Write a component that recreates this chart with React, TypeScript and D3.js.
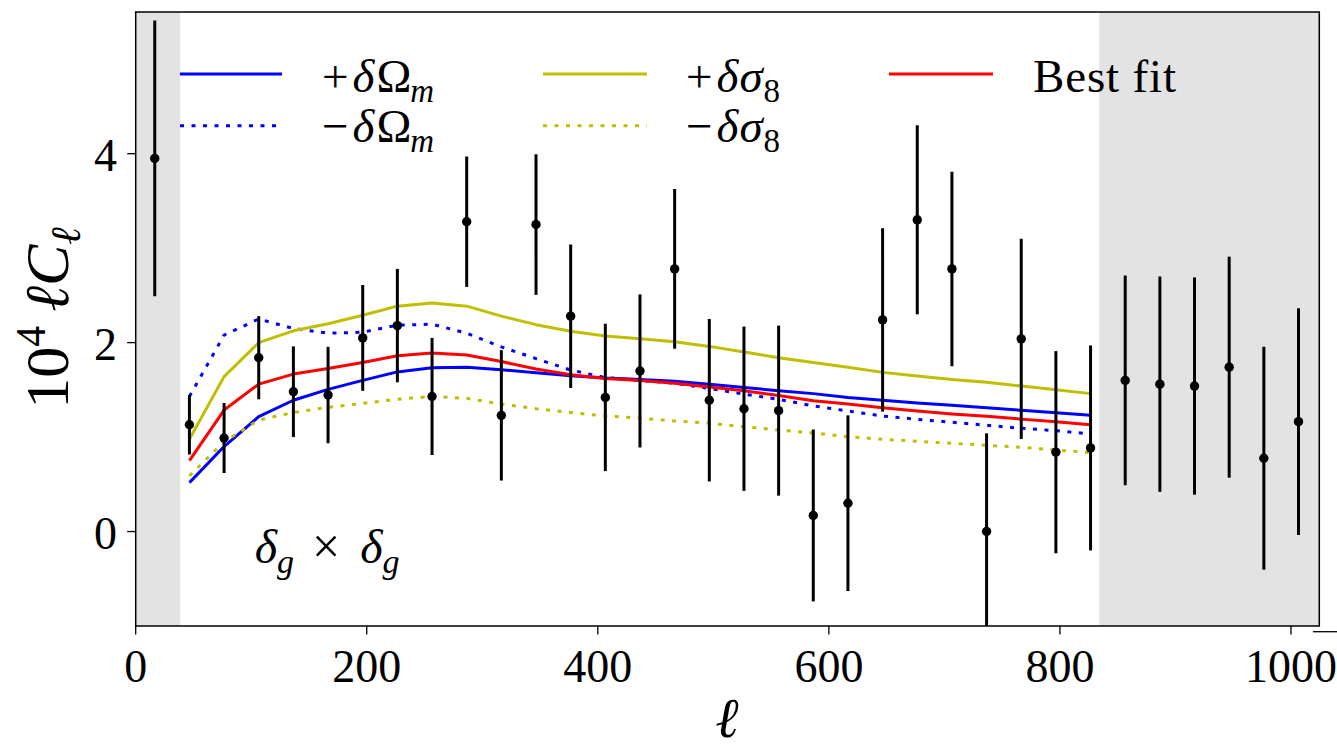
import React from "react";
import * as d3 from "d3";

// ---- data ----
const binEll: number[] = [16.5, 46.5, 76.5, 106.5, 136.5, 166.5, 196.5, 226.5, 256.5, 286.5, 316.5, 346.5, 376.5, 406.5, 436.5, 466.5, 496.5, 526.5, 556.5, 586.5, 616.5, 646.5, 676.5, 706.5, 736.5, 766.5, 796.5, 826.5, 856.5, 886.5, 916.5, 946.5, 976.5, 1006.5];
const dataVal: number[] = [3.95, 1.13, 0.99, 1.84, 1.48, 1.445, 2.05, 2.18, 1.43, 3.28, 1.23, 3.25, 2.28, 1.42, 1.70, 2.78, 1.39, 1.30, 1.28, 0.17, 0.30, 2.24, 3.30, 2.78, 0.0, 2.04, 0.84, 0.885, 1.60, 1.56, 1.54, 1.74, 0.776, 1.163];
const dataErr: number[] = [1.46, 0.315, 0.37, 0.44, 0.48, 0.51, 0.56, 0.60, 0.62, 0.69, 0.69, 0.745, 0.76, 0.78, 0.81, 0.845, 0.86, 0.87, 0.90, 0.91, 0.93, 0.97, 1.0, 1.03, 1.04, 1.06, 1.07, 1.085, 1.11, 1.14, 1.15, 1.17, 1.18, 1.2];

const modelEll: number[] = [46.5, 76.5, 106.5, 136.5, 166.5, 196.5, 226.5, 256.5, 286.5, 316.5, 346.5, 376.5, 406.5, 436.5, 466.5, 496.5, 526.5, 556.5, 586.5, 616.5, 646.5, 676.5, 706.5, 736.5, 766.5, 796.5, 826.5];
const plusOm: number[] = [0.518, 0.90, 1.216, 1.39, 1.505, 1.60, 1.69, 1.735, 1.74, 1.713, 1.68, 1.65, 1.625, 1.61, 1.59, 1.56, 1.526, 1.49, 1.46, 1.42, 1.39, 1.36, 1.336, 1.31, 1.283, 1.258, 1.23];
const minusOm: number[] = [1.43, 2.08, 2.25, 2.15, 2.10, 2.11, 2.185, 2.195, 2.10, 1.955, 1.83, 1.71, 1.63, 1.60, 1.57, 1.515, 1.455, 1.40, 1.33, 1.276, 1.223, 1.188, 1.157, 1.125, 1.093, 1.068, 1.033];
const plusS8: number[] = [0.977, 1.64, 2.0, 2.125, 2.20, 2.29, 2.386, 2.42, 2.386, 2.28, 2.19, 2.12, 2.07, 2.04, 2.01, 1.96, 1.90, 1.84, 1.79, 1.74, 1.685, 1.646, 1.61, 1.58, 1.54, 1.50, 1.46];
const minusS8: number[] = [0.59, 0.95, 1.18, 1.26, 1.315, 1.357, 1.40, 1.43, 1.41, 1.35, 1.30, 1.26, 1.223, 1.20, 1.17, 1.146, 1.11, 1.075, 1.043, 1.004, 0.977, 0.955, 0.934, 0.913, 0.892, 0.864, 0.835];
const bestFit: number[] = [0.75, 1.286, 1.56, 1.667, 1.727, 1.79, 1.86, 1.89, 1.868, 1.80, 1.72, 1.66, 1.62, 1.60, 1.57, 1.53, 1.49, 1.44, 1.385, 1.35, 1.31, 1.276, 1.244, 1.22, 1.19, 1.163, 1.13];

const xTicks: number[] = [0, 200, 400, 600, 800, 1000];
const yTicks: number[] = [0, 2, 4];
const maskedRanges: [number, number][] = [[0, 38.5], [834, 1024.5]];

// ---- layout ----
const W = 1337, H = 752;
const L = 135.7, R = 1319.3, T = 12, B = 626;
const FONT = "'Liberation Serif', 'DejaVu Serif', serif";

const x = d3.scaleLinear().domain([0, 1024.5]).range([L, R]);
const y = d3.scaleLinear().domain([-1, 5.5]).range([B, T]);

const lineGen = (vals: number[]) =>
  d3.line<number>().x((_, i) => x(modelEll[i])).y((v) => y(v))(vals) as string;

const BLUE = "#0000ff", YEL = "#bfbf00", RED = "#ff0000";
const DOT = "4 7.5";

const series = [
  { vals: plusOm, color: BLUE, dash: undefined as string | undefined },
  { vals: minusOm, color: BLUE, dash: DOT },
  { vals: plusS8, color: YEL, dash: undefined },
  { vals: minusS8, color: YEL, dash: DOT },
  { vals: bestFit, color: RED, dash: undefined },
];

function MathLabel({ sign, x0, y0 , kind }: { sign: string; x0: number; y0: number; kind: "om" | "s8" }) {
  return (
    <text x={x0} y={y0} fontSize={47}>
      <tspan>{sign}</tspan>
      <tspan dx={4} fontStyle="italic">δ</tspan>
      {kind === "om" ? (
        <>
          <tspan dx={2}>Ω</tspan>
          <tspan fontSize={33} fontStyle="italic" dy={10} dx={-1}>m</tspan>
        </>
      ) : (
        <>
          <tspan dx={1} fontStyle="italic">σ</tspan>
          <tspan fontSize={33} dy={10} dx={1}>8</tspan>
        </>
      )}
    </text>
  );
}

export default function App() {
  return (
    <svg width={W} height={H} style={{ position: "absolute", left: 0, top: 0, background: "#fff" }} fontFamily={FONT}>
      <defs>
        <clipPath id="plotclip">
          <rect x={L} y={T} width={R - L} height={B - T} />
        </clipPath>
      </defs>
      {/* masked regions */}
      {maskedRanges.map(([a, b], i) => (
        <rect key={i} x={x(a)} y={T} width={x(b) - x(a)} height={B - T} fill="#e3e3e3" />
      ))}
      <g clipPath="url(#plotclip)">
        {series.map((s, i) => (
          <path key={i} d={lineGen(s.vals)} fill="none" stroke={s.color} strokeWidth={3} strokeDasharray={s.dash} strokeLinejoin="round" />
        ))}
        {binEll.map((l, i) => (
          <g key={i}>
            <line x1={x(l)} x2={x(l)} y1={y(dataVal[i] - dataErr[i])} y2={y(dataVal[i] + dataErr[i])} stroke="#000" strokeWidth={3} />
            <circle cx={x(l)} cy={y(dataVal[i])} r={4.7} fill="#000" />
          </g>
        ))}
      </g>
      {/* frame */}
      <rect x={L} y={T} width={R - L} height={B - T} fill="none" stroke="#000" strokeWidth={1.5} />
      {/* x ticks */}
      {xTicks.map((t) => (
        <g key={t}>
          <line x1={x(t)} x2={x(t)} y1={B} y2={B + 8.5} stroke="#000" strokeWidth={1.3} />
          <text x={x(t)} y={682} fontSize={46} textAnchor="middle">{t}</text>
        </g>
      ))}
      {/* y ticks */}
      {yTicks.map((t) => (
        <g key={t}>
          <line x1={L - 8.5} x2={L} y1={y(t)} y2={y(t)} stroke="#000" strokeWidth={1.3} />
          <text x={117} y={y(t) + 17} fontSize={46} textAnchor="end">{t}</text>
        </g>
      ))}
      {/* stray mark bottom right */}
      <line x1={1313} x2={1337} y1={631.7} y2={631.7} stroke="#000" strokeWidth={1.3} />
      {/* axis labels */}
      <text x={727} y={737} fontSize={56} textAnchor="middle" fontStyle="italic">ℓ</text>
      <text transform="translate(68,318) rotate(-90)" fontSize={62} textAnchor="middle">
        10<tspan fontSize={42} dy={-23}>4</tspan>
        <tspan dy={23} dx={14} fontStyle="italic">ℓC</tspan>
        <tspan fontSize={42} dy={12} fontStyle="italic">ℓ</tspan>
      </text>
      {/* annotation */}
      <text x={x(103)} y={y(-0.33)} fontSize={48}>
        <tspan fontStyle="italic">δ</tspan>
        <tspan fontSize={34} fontStyle="italic" dy={10}>g</tspan>
        <tspan dy={-10} dx={18} fontSize={50}>×</tspan>
        <tspan dx={20} fontStyle="italic">δ</tspan>
        <tspan fontSize={34} fontStyle="italic" dy={10}>g</tspan>
      </text>
      {/* legend */}
      <g>
        <line x1={180} x2={282} y1={74} y2={74} stroke={BLUE} strokeWidth={3} />
        <line x1={180} x2={282} y1={125.7} y2={125.7} stroke={BLUE} strokeWidth={3} strokeDasharray={DOT} />
        <line x1={543} x2={647} y1={74} y2={74} stroke={YEL} strokeWidth={3} />
        <line x1={543} x2={647} y1={125.7} y2={125.7} stroke={YEL} strokeWidth={3} strokeDasharray={DOT} />
        <line x1={889} x2={993} y1={74} y2={74} stroke={RED} strokeWidth={3} />
        <MathLabel sign="+" x0={322} y0={92} kind="om" />
        <MathLabel sign="−" x0={322} y0={142} kind="om" />
        <MathLabel sign="+" x0={686} y0={92} kind="s8" />
        <MathLabel sign="−" x0={686} y0={142} kind="s8" />
        <text x={1033} y={92} fontSize={47} textLength={143} lengthAdjust="spacing">Best fit</text>
      </g>
    </svg>
  );
}
